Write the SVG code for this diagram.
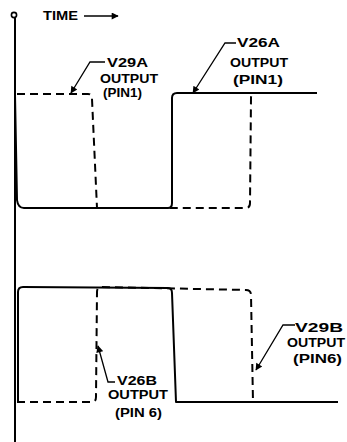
<svg xmlns="http://www.w3.org/2000/svg" width="347" height="442" viewBox="0 0 347 442">
<defs>
<marker id="ah" viewBox="0 0 10 10" refX="9" refY="5" markerWidth="11" markerHeight="7" markerUnits="userSpaceOnUse" orient="auto">
<path d="M0,0 L10,5 L0,10 Z" fill="#000"/>
</marker>
<marker id="ahb" viewBox="0 0 10 10" refX="9" refY="5" markerWidth="11" markerHeight="7" markerUnits="userSpaceOnUse" orient="auto">
<path d="M0,0 L10,5 L0,10 Z" fill="#000"/>
</marker>
</defs>
<style>
.sol{fill:none;stroke:#000;stroke-width:2;stroke-linejoin:round}
.dsh{fill:none;stroke:#000;stroke-width:2;stroke-dasharray:8 5}
.ldr{fill:none;stroke:#000;stroke-width:1.3}
text{font-family:"Liberation Sans",Arial,sans-serif;font-weight:bold;font-size:12.5px;fill:#000}
</style>
<rect width="347" height="442" fill="#fff"/>
<g id="axis">
<circle cx="14" cy="15" r="2.6" fill="none" stroke="#000" stroke-width="1.6"/>
<line x1="15" y1="18" x2="15" y2="442" class="sol"/>
<text x="43" y="20" textLength="35" lengthAdjust="spacingAndGlyphs" font-size="11px">TIME</text>
<line x1="84" y1="16" x2="118" y2="16" class="ldr" stroke-width="1.6" marker-end="url(#ahb)"/>
</g>
<g id="connectors">
<path class="sol" d="M15,95 L17,200 Q18,208 24,208 L168,208 Q172,208 172,203 L172,98 Q172,93 177,93 L317,93"/>
<path class="dsh" d="M17,94 L88,94 Q92,94 92,99 L97,208 L246,208 Q250,208 250,203 L251,98 Q251,93 256,93 L317,93"/>
<path class="sol" d="M18,402 L18,292 Q18,287 23,287 L168,288 Q172,288 172,293 L176,402 L338,402"/>
<path class="dsh" d="M17,402 L92,402 Q96,402 96,397 L97,292 Q97,287 102,287 L246,290 Q251,290 251,295 L253,402"/>
<path class="ldr" d="M105,62 L90,62 L71,93" marker-end="url(#ah)"/>
<path class="ldr" d="M236,43 L225,43 L193,93" marker-end="url(#ah)"/>
<path class="ldr" d="M115,382 L108,382 L98,346" marker-end="url(#ah)"/>
<path class="ldr" d="M295,325 L283,325 L256,370" marker-end="url(#ah)"/>
</g>
<g id="label-v29a">
<text x="107" y="67" textLength="41" lengthAdjust="spacingAndGlyphs">V29A</text>
<text x="100" y="83" textLength="58" lengthAdjust="spacingAndGlyphs">OUTPUT</text>
<text x="103" y="97" textLength="39" lengthAdjust="spacingAndGlyphs">(PIN1)</text>
</g>
<g id="label-v26a">
<text x="237" y="47" textLength="43" lengthAdjust="spacingAndGlyphs">V26A</text>
<text x="230" y="67" textLength="58" lengthAdjust="spacingAndGlyphs">OUTPUT</text>
<text x="233" y="84" textLength="50" lengthAdjust="spacingAndGlyphs">(PIN1)</text>
</g>
<g id="label-v26b">
<text x="117" y="385" textLength="40" lengthAdjust="spacingAndGlyphs">V26B</text>
<text x="108" y="399" textLength="60" lengthAdjust="spacingAndGlyphs">OUTPUT</text>
<text x="115" y="417" textLength="47" lengthAdjust="spacingAndGlyphs">(PIN 6)</text>
</g>
<g id="label-v29b">
<text x="295" y="332" textLength="48" lengthAdjust="spacingAndGlyphs">V29B</text>
<text x="287" y="347" textLength="58" lengthAdjust="spacingAndGlyphs">OUTPUT</text>
<text x="293" y="363" textLength="49" lengthAdjust="spacingAndGlyphs">(PIN6)</text>
</g>
</svg>
